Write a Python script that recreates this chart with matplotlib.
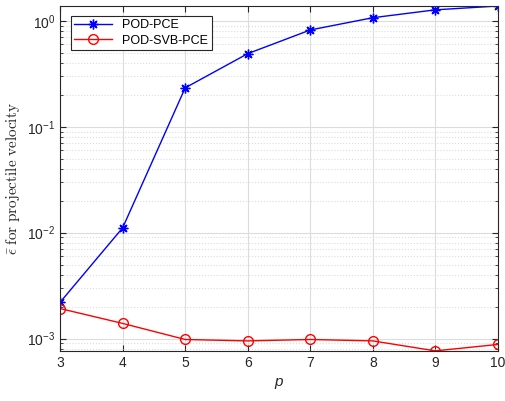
import matplotlib
matplotlib.use('Agg')
from matplotlib import pyplot as plt

p = [3, 4, 5, 6, 7, 8, 9, 10]
pod_pce = [2.2e-3, 1.11e-2, 0.233, 0.49, 0.82, 1.07, 1.27, 1.38]
pod_svb_pce = [1.92e-3, 1.39e-3, 0.98e-3, 0.95e-3, 0.98e-3, 0.95e-3, 0.765e-3, 0.88e-3]

plt.rcParams['font.family'] = ['Liberation Sans', 'DejaVu Sans']
plt.rcParams['mathtext.fontset'] = 'cm'

fig = plt.figure(figsize=(5.05, 4.01), dpi=100)
ax = fig.add_axes([0.119, 0.125, 0.867, 0.86])

# matlab '*' marker = plus + cross
ax.semilogy(p, pod_pce, color='blue', marker=(8, 2, 0), markersize=7, markeredgewidth=1,
            linewidth=1, label='POD-PCE')
ax.semilogy(p, pod_svb_pce, color='red', marker='o', markersize=7, markerfacecolor='none',
            linewidth=1, label='POD-SVB-PCE')

ax.set_xlim(3, 10)
ax.set_ylim(0.765e-3, 1.38)
ax.grid(True, which='major', color='#dcdcdc', linewidth=0.8)
ax.grid(True, which='minor', color='#dcdcdc', linestyle=':', linewidth=0.8)

dark = '#262626'
for s in ax.spines.values():
    s.set_color(dark)
    s.set_linewidth(0.8)
ax.tick_params(which='both', direction='in', top=True, right=True, colors=dark, labelsize=10)
ax.tick_params(which='major', length=4)
ax.tick_params(which='minor', length=2)

ax.set_xlabel('p', fontsize=11, fontstyle='italic', color=dark)
ax.set_ylabel(r'$\bar{\epsilon}\ \mathrm{for\ projectile\ velocity}$', fontsize=11, color=dark)

leg = ax.legend(loc='upper left', fontsize=9, fancybox=False, edgecolor=dark,
                framealpha=1, handlelength=3.0, borderpad=0.3, labelspacing=0.25,
                bbox_to_anchor=(0.01, 0.99))
leg.get_frame().set_linewidth(0.8)

fig.savefig('out.png', dpi=100)
